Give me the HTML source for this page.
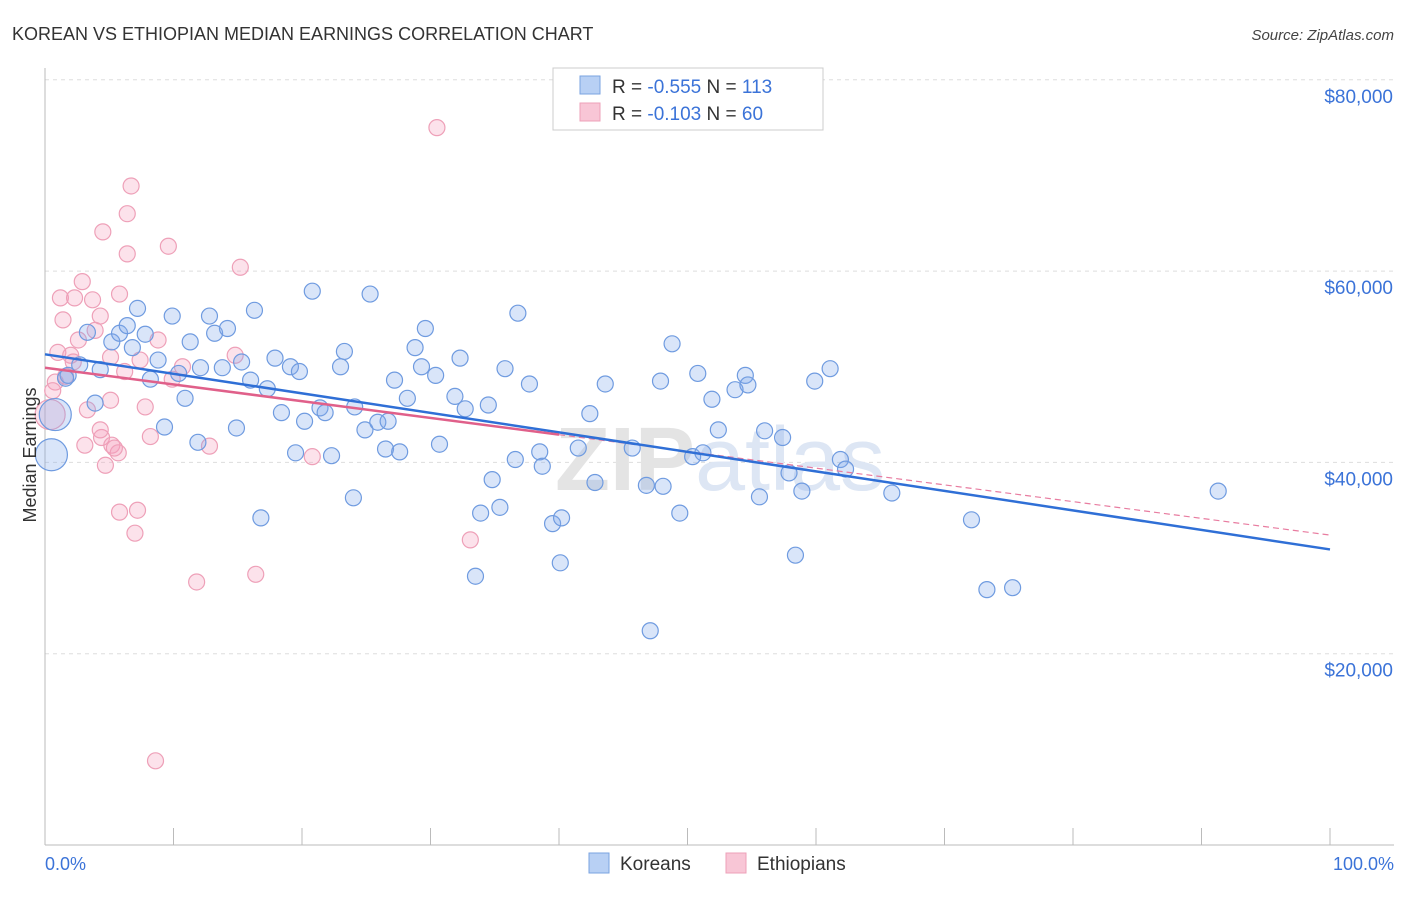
<!DOCTYPE html>
<html><head><meta charset="utf-8"><style>
body{margin:0;background:#fff;font-family:"Liberation Sans",sans-serif;}
</style></head><body>
<svg id="chart" width="1406" height="892" xmlns="http://www.w3.org/2000/svg">
<text x="12" y="40" font-size="18" fill="#333">KOREAN VS ETHIOPIAN MEDIAN EARNINGS CORRELATION CHART</text>
<text x="1394" y="40" font-size="15" fill="#444" font-style="italic" text-anchor="end">Source: ZipAtlas.com</text>
<g id="grid"></g>
<text x="720" y="490" font-size="90" font-weight="bold" fill="#e4e4e4" text-anchor="middle">ZIP<tspan fill="#dde6f4" font-weight="normal">atlas</tspan></text>
<g id="marks"></g>
<text x="36" y="455" font-size="18" fill="#333" text-anchor="middle" transform="rotate(-90 36 455)">Median Earnings</text>
<text x="45" y="870" font-size="18" fill="#3b73d8">0.0%</text>
<text x="1394" y="870" font-size="18" fill="#3b73d8" text-anchor="end">100.0%</text>
<g>
<rect x="553" y="68" width="270" height="62" fill="#fff" stroke="#ccc"/>
<rect x="580" y="76" width="20" height="18" fill="#b8d0f4" stroke="#7aa3e0"/>
<rect x="580" y="103" width="20" height="18" fill="#f8c6d6" stroke="#eea0b8"/>
<text x="612" y="93" font-size="19" fill="#333">R = <tspan fill="#3b73d8">-0.555</tspan>   N = <tspan fill="#3b73d8">113</tspan></text>
<text x="612" y="120" font-size="19" fill="#333">R =  <tspan fill="#3b73d8">-0.103</tspan>   N =  <tspan fill="#3b73d8">60</tspan></text>
</g>
<g>
<rect x="589" y="853" width="20" height="20" fill="#b8d0f4" stroke="#7aa3e0"/>
<text x="620" y="870" font-size="19" fill="#333">Koreans</text>
<rect x="726" y="853" width="20" height="20" fill="#f8c6d6" stroke="#eea0b8"/>
<text x="757" y="870" font-size="19" fill="#333">Ethiopians</text>
</g>
</svg>
<script>
const yTicks=[20000,40000,60000,80000];
const yTickLabels=["$20,000","$40,000","$60,000","$80,000"];
const koreanX=[0.8,0.5,1.8,1.6,2.7,3.3,3.9,4.3,5.2,5.8,6.4,6.8,7.2,7.8,8.2,8.8,9.3,9.9,10.4,10.9,11.3,11.9,12.1,12.8,13.2,13.8,14.2,14.9,15.3,16.0,16.3,16.8,17.3,17.9,18.4,19.1,19.5,19.8,20.2,20.8,21.4,21.8,22.3,23.0,23.3,24.0,24.1,24.9,25.3,25.9,26.5,26.7,27.2,27.6,28.2,28.8,29.3,29.6,30.4,30.7,31.9,32.3,32.7,33.5,33.9,34.5,34.8,35.4,35.8,36.6,36.8,37.7,38.5,38.7,39.5,40.1,40.2,41.5,42.4,42.8,43.6,45.7,46.8,47.1,47.9,48.1,48.8,49.4,50.4,50.8,51.2,51.9,52.4,53.7,54.5,54.7,55.6,56.0,57.4,57.9,58.4,58.9,59.9,61.1,61.9,62.3,65.9,72.1,73.3,75.3,91.3];
const koreanY=[45.0,40.8,49.1,48.8,50.2,53.6,46.2,49.7,52.6,53.5,54.3,52.0,56.1,53.4,48.7,50.7,43.7,55.3,49.3,46.7,52.6,42.1,49.9,55.3,53.5,49.9,54.0,43.6,50.5,48.6,55.9,34.2,47.7,50.9,45.2,50.0,41.0,49.5,44.3,57.9,45.7,45.2,40.7,50.0,51.6,36.3,45.8,43.4,57.6,44.2,41.4,44.3,48.6,41.1,46.7,52.0,50.0,54.0,49.1,41.9,46.9,50.9,45.6,28.1,34.7,46.0,38.2,35.3,49.8,40.3,55.6,48.2,41.1,39.6,33.6,29.5,34.2,41.5,45.1,37.9,48.2,41.5,37.6,22.4,48.5,37.5,52.4,34.7,40.6,49.3,41.0,46.6,43.4,47.6,49.1,48.1,36.4,43.3,42.6,38.9,30.3,37.0,48.5,49.8,40.3,39.3,36.8,34.0,26.7,26.9,37.0];
const koreanBig=[1,1];
const ethX=[0.4,0.8,1.0,1.2,1.4,2.0,2.3,2.6,2.9,3.1,3.3,3.7,3.9,4.3,4.4,4.5,4.7,5.1,5.2,5.7,5.8,5.8,6.2,6.4,6.4,6.7,7.0,7.2,7.4,7.8,8.2,8.6,8.8,9.6,9.9,10.7,11.8,12.8,14.8,15.2,16.4,20.8,30.5,33.1,5.1,4.3,5.4,1.6,2.2,0.6];
const ethY=[45.0,48.4,51.5,57.2,54.9,51.2,57.2,52.8,58.9,41.8,45.5,57.0,53.8,55.3,42.6,64.1,39.7,51.0,41.8,41.0,57.6,34.8,49.5,66.0,61.8,68.9,32.6,35.0,50.7,45.8,42.7,8.8,52.8,62.6,48.7,50.0,27.5,41.7,51.2,60.4,28.3,40.6,75.0,31.9,46.5,43.4,41.5,49.0,50.5,47.5];
const koreanTrend=[51300,30900];
const ethTrend=[49900,32400];
const ethSolidEnd=40;

const X0=45,X1=1330,Y0=845,YPER=191.3/20000;
const sx=v=>X0+(X1-X0)*v/100;
const sy=v=>Y0-v*YPER;
const NS="http://www.w3.org/2000/svg";
function mk(tag,attrs,parent){const e=document.createElementNS(NS,tag);for(const k in attrs)e.setAttribute(k,attrs[k]);parent.appendChild(e);return e;}
const grid=document.getElementById('grid'),marks=document.getElementById('marks');
yTicks.forEach((t,i)=>{
 const l=mk('line',{x1:X0,x2:1394,y1:sy(t),y2:sy(t),stroke:'#ddd','stroke-dasharray':'4,4'},grid);
 
 
 const tx=mk('text',{x:1393,y:sy(t)+23,'font-size':19,fill:'#3b73d8','text-anchor':'end'},grid);
 tx.textContent=yTickLabels[i];
 
 
});
const ax=mk('line',{x1:X0,x2:X0,y1:68,y2:Y0,stroke:'#bbb'},grid);


const bx=mk('line',{x1:X0,x2:1394,y1:Y0,y2:Y0,stroke:'#bbb'},grid);


for(let i=0;i<=10;i++){
 const t=mk('line',{x1:sx(i*10),x2:sx(i*10),y1:828,y2:Y0,stroke:'#bbb'},grid);
 
 
}
ethX.forEach((x,i)=>{
 const c=mk('circle',{cx:sx(x),cy:sy(ethY[i]*1000),r:i===0?15:8,fill:'rgba(244,160,190,0.3)',stroke:'#eea0b8','stroke-width':1.2},marks);
 
 
});
koreanX.forEach((x,i)=>{
 const c=mk('circle',{cx:sx(x),cy:sy(koreanY[i]*1000),r:i<koreanBig.length?16:8,fill:'rgba(130,170,235,0.3)',stroke:'#6f9be0','stroke-width':1.2},marks);
 
 
});
const ey=x=>ethTrend[0]+(ethTrend[1]-ethTrend[0])*x/100;
const d1=mk('line',{x1:sx(ethSolidEnd),y1:sy(ey(ethSolidEnd)),x2:sx(100),y2:sy(ey(100)),stroke:'#e87ca0','stroke-width':1.2,'stroke-dasharray':'6,4'},marks);


const kt=mk('line',{x1:sx(0),y1:sy(koreanTrend[0]),x2:sx(100),y2:sy(koreanTrend[1]),stroke:'#2f6fd6','stroke-width':2.5},marks);


const et=mk('line',{x1:sx(0),y1:sy(ey(0)),x2:sx(ethSolidEnd),y2:sy(ey(ethSolidEnd)),stroke:'#e0608a','stroke-width':2.5},marks);


</script>
</body></html>
